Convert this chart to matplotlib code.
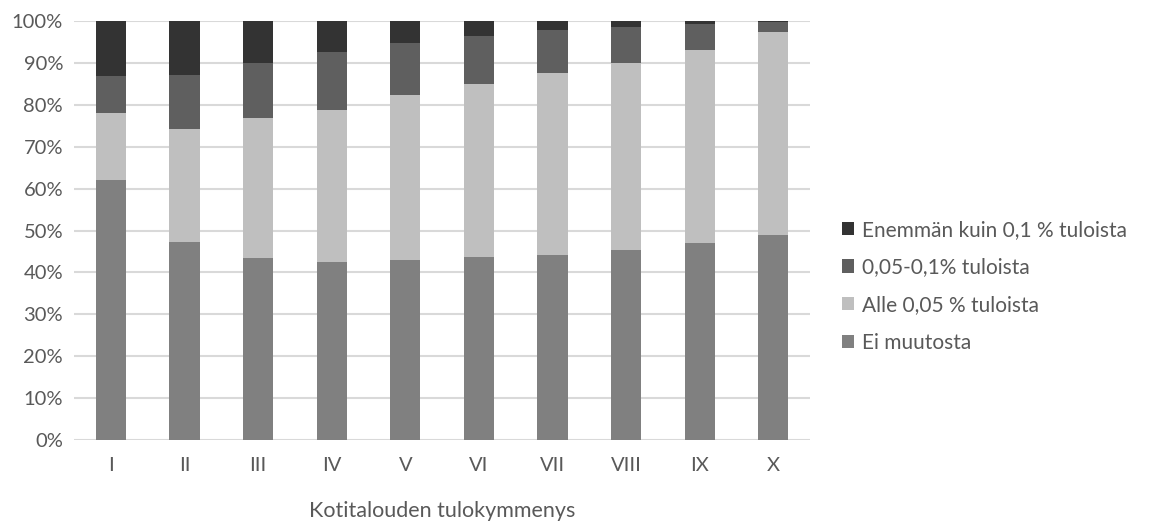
import matplotlib.pyplot as plt
import numpy as np
from matplotlib.ticker import PercentFormatter

plt.rcParams["font.family"] = ["Lato", "DejaVu Sans"]

deciles = ["I", "II", "III", "IV", "V", "VI", "VII", "VIII", "IX", "X"]
ei_muutosta = [62.0, 47.2, 43.5, 42.6, 42.9, 43.6, 44.1, 45.3, 47.0, 48.9]
alle_005 = [16.0, 27.0, 33.3, 36.2, 39.4, 41.4, 43.5, 44.7, 46.1, 48.5]
valilla = [8.9, 12.9, 13.2, 13.8, 12.4, 11.4, 10.3, 8.6, 6.2, 2.4]
yli_01 = [13.1, 12.9, 10.0, 7.4, 5.3, 3.6, 2.1, 1.4, 0.7, 0.2]

series = [
    ("Ei muutosta", ei_muutosta, "#808080"),
    ("Alle 0,05 % tuloista", alle_005, "#bfbfbf"),
    ("0,05-0,1% tuloista", valilla, "#5f5f5f"),
    ("Enemmän kuin 0,1 % tuloista", yli_01, "#333333"),
]

text_color = "#595959"

fig = plt.figure(figsize=(11.59, 5.27), dpi=100)
ax = fig.add_axes([0.064, 0.165, 0.635, 0.795])

x = np.arange(len(deciles))
bottom = np.zeros(len(deciles))
handles = []
for label, vals, color in series:
    bars = ax.bar(x, vals, 0.41, bottom=bottom, color=color, label=label, zorder=3)
    bottom += np.array(vals)
    handles.append(bars)

ax.set_ylim(0, 100)
ax.set_xlim(-0.5, len(deciles) - 0.5)
ax.set_yticks(np.arange(0, 101, 10))
ax.yaxis.set_major_formatter(PercentFormatter(decimals=0))
ax.set_xticks(x)
ax.set_xticklabels(deciles)
ax.grid(axis="y", color="#d9d9d9", linewidth=1.5, zorder=0)
for s in ax.spines.values():
    s.set_visible(False)
ax.tick_params(axis="both", length=0, labelsize=14.5, colors=text_color)
ax.tick_params(axis="x", pad=12)
ax.tick_params(axis="y", pad=8)

ax.set_xlabel("Kotitalouden tulokymmenys", fontsize=15.5, color=text_color, labelpad=20)

leg = fig.legend(
    handles[::-1],
    [s[0] for s in series][::-1],
    loc="center left",
    bbox_to_anchor=(0.710, 0.457),
    frameon=False,
    fontsize=15,
    handlelength=0.6,
    handleheight=0.6,
    handletextpad=0.4,
    labelspacing=0.85,
)
for t in leg.get_texts():
    t.set_color(text_color)

fig.savefig("out.png", dpi=100)
